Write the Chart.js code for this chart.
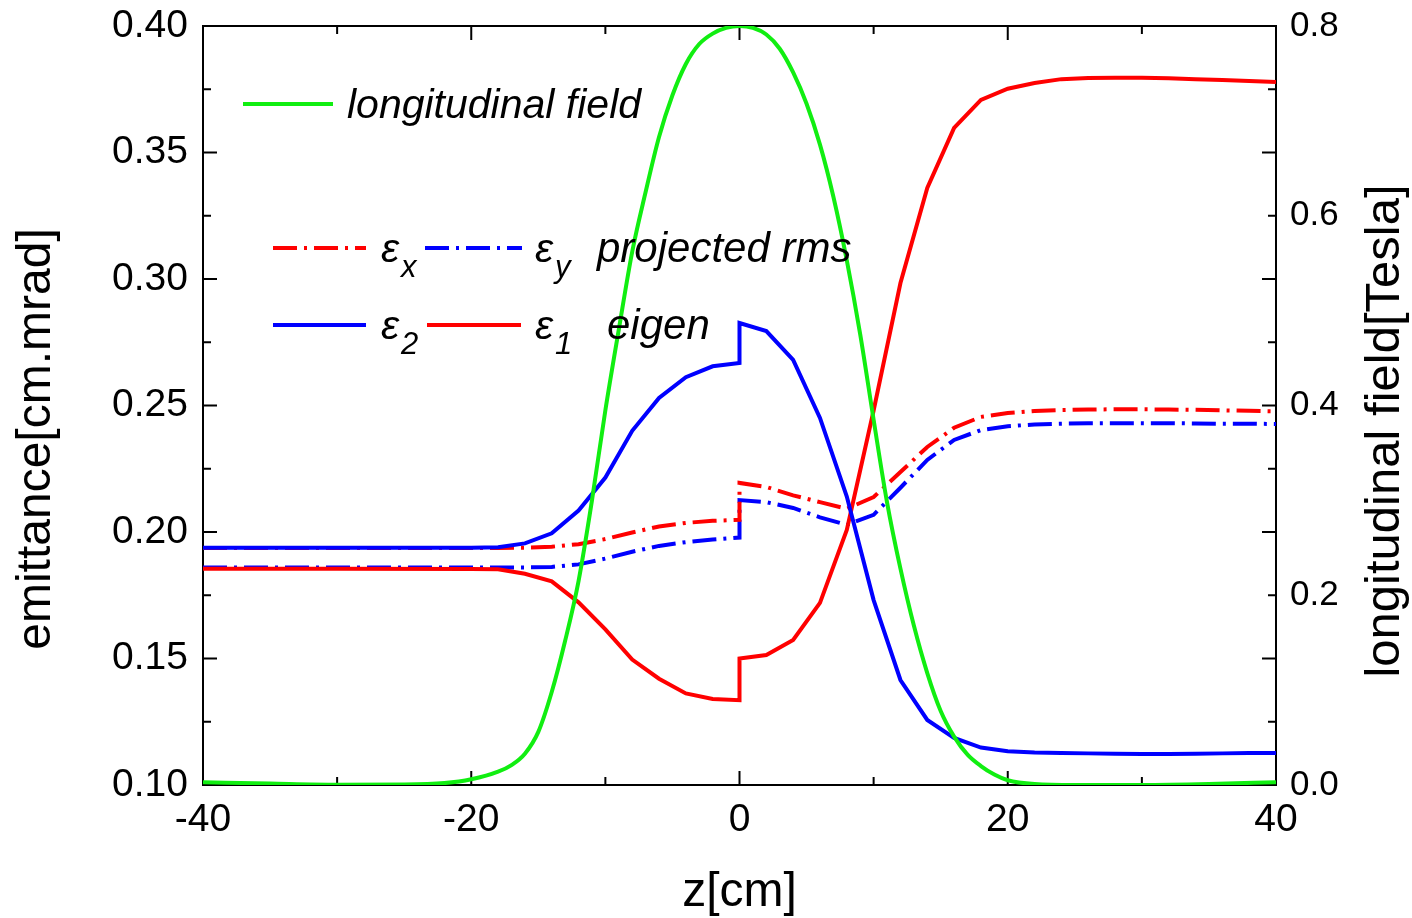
<!DOCTYPE html>
<html>
<head>
<meta charset="utf-8">
<script src="https://cdn.jsdelivr.net/npm/chart.js@4.4.0/dist/chart.umd.min.js"></script>
<style>
  html, body { margin: 0; padding: 0; background: #fff; }
  #wrap { width: 1412px; height: 918px; }
</style>
</head>
<body>
<div id="wrap"><canvas id="c" width="1412" height="918"></canvas></div>
<script>
// z positions for emittance curves (0 twice: jump at the solenoid centre)
const zEmit = [-40, -30, -20, -18, -16, -14, -12, -10, -8, -6, -4, -2, 0, 0,
  2, 4, 6, 8, 10, 12, 14, 16, 18, 20, 22, 24, 26, 28, 30, 32, 34, 36, 38, 40]

// eigen emittances
const eps1 = [0.1855, 0.1855, 0.1854, 0.1853, 0.1835, 0.1805, 0.1722, 0.1615, 0.1496, 0.142, 0.1362, 0.134, 0.1335, 0.150,
  0.1514, 0.1573, 0.172, 0.2008, 0.248, 0.2984, 0.336, 0.3597, 0.3708, 0.3752, 0.3775, 0.379, 0.3794, 0.3795, 0.3795, 0.3793, 0.379, 0.3787, 0.3783, 0.3779]
const eps2 = [0.1938, 0.1938, 0.1938, 0.194, 0.1955, 0.1995, 0.2085, 0.2215, 0.240, 0.253, 0.2612, 0.2655, 0.2668, 0.2826,
  0.2794, 0.268, 0.2451, 0.214, 0.1731, 0.1415, 0.1257, 0.1186, 0.1148, 0.1133, 0.1128, 0.1126, 0.1125, 0.1124, 0.1123, 0.1123, 0.1124, 0.1125, 0.1126, 0.1126]

// projected rms emittances
const epsX = [0.1937, 0.1937, 0.1937, 0.1937, 0.1938, 0.1942, 0.1952, 0.1972, 0.1998, 0.2022, 0.2036, 0.2044, 0.2048, 0.2194,
  0.2178, 0.2145, 0.2118, 0.2092, 0.2138, 0.2237, 0.2336, 0.2412, 0.2455, 0.247, 0.2478, 0.2482, 0.2484, 0.2485, 0.2485, 0.2484, 0.2483, 0.2481, 0.2479, 0.2477]
const epsY = [0.186, 0.186, 0.186, 0.186, 0.186, 0.1862, 0.1872, 0.1895, 0.1922, 0.1945, 0.196, 0.197, 0.1978, 0.2126,
  0.2118, 0.2095, 0.2058, 0.2028, 0.2068, 0.2175, 0.2285, 0.2364, 0.2403, 0.2418, 0.2425, 0.2428, 0.243, 0.243, 0.243, 0.243, 0.2429, 0.2428, 0.2428, 0.2427]

// longitudinal field [Tesla]
const zField = [-40, -35, -30, -25, -22, -20, -18, -17, -16, -15, -14, -13, -12, -11, -10, -9, -8, -7, -6, -5, -4, -3, -2, -1, 0,
  1, 2, 3, 4, 5, 6, 7, 8, 9, 10, 11, 12, 13, 14, 15, 16, 17, 18, 19, 20, 22, 25, 30, 35, 40]
const field = [0.003, 0.0015, 0.0003, 0.0005, 0.002, 0.006, 0.014, 0.021, 0.033, 0.056, 0.098, 0.152, 0.215, 0.300, 0.395, 0.48, 0.562, 0.625, 0.683, 0.727, 0.76, 0.781, 0.792, 0.798, 0.8,
  0.798, 0.791, 0.776, 0.751, 0.718, 0.675, 0.62, 0.553, 0.475, 0.385, 0.298, 0.228, 0.168, 0.118, 0.078, 0.051, 0.032, 0.02, 0.011, 0.005, 0.001, 0.0, 0.0, 0.001, 0.003]

// axes
const zTicks = { min: -40, max: 40, major: 20, minor: 10 }
const emitTicks = { min: 0.10, max: 0.40, major: 0.05, minor: 0.025 }
const fieldTicks = { min: 0, max: 0.8, major: 0.2 }
const zTitle = 'z[cm]'
const emitTitle = 'emittance[cm.mrad]'
const fieldTitle = 'longitudinal field[Tesla]'

const FONT = '"Liberation Sans", Arial, sans-serif'
const RED = '#ff0000'
const BLUE = '#0000ff'
const GREEN = '#11ee11'
const DASHDOT = [24, 7, 3, 7]

function pts(xs, ys) {
  return xs.map((x, i) => ({ x: x, y: ys[i] }))
}

// фиксированные размеры осей, без автоматических отступов
function fixBox(size) {
  return (s) => {
    if (s.isHorizontal()) {
      s.height = size
      s.paddingLeft = 0
      s.paddingRight = 0
    } else {
      s.width = size
      s.paddingTop = 0
      s.paddingBottom = 0
    }
  }
}

// рамка, внутренние засечки и подписи осей
const frameTicks = {
  id: 'frameTicks',
  beforeDatasetsDraw(chart) {
    const { ctx, chartArea: { left, top, right, bottom }, scales } = chart
    ctx.save()
    ctx.strokeStyle = '#000'
    ctx.lineWidth = 2
    ctx.beginPath()
    const n = Math.round((zTicks.max - zTicks.min) / zTicks.minor)
    for (let i = 0; i <= n; i++) {
      const px = scales.x.getPixelForValue(zTicks.min + i * zTicks.minor)
      const len = i % 2 === 0 ? 14 : 8
      ctx.moveTo(px, bottom); ctx.lineTo(px, bottom - len)
      ctx.moveTo(px, top); ctx.lineTo(px, top + len)
    }
    const m = Math.round((emitTicks.max - emitTicks.min) / emitTicks.minor)
    for (let i = 0; i <= m; i++) {
      const py = scales.y.getPixelForValue(emitTicks.min + i * emitTicks.minor)
      const len = i % 2 === 0 ? 14 : 8
      ctx.moveTo(left, py); ctx.lineTo(left + len, py)
      ctx.moveTo(right, py); ctx.lineTo(right - len, py)
    }
    ctx.stroke()
    ctx.strokeRect(left, top, right - left, bottom - top)

    ctx.fillStyle = '#000'
    ctx.textAlign = 'center'
    ctx.textBaseline = 'middle'

    ctx.font = '48px ' + FONT
    ctx.fillText(zTitle, (left + right) / 2, 893)

    ctx.save()
    ctx.translate(37, 439)
    ctx.rotate(-Math.PI / 2)
    ctx.fillText(emitTitle, 0, 0)
    ctx.restore()

    ctx.save()
    ctx.font = '49px ' + FONT
    ctx.translate(1385, 431)
    ctx.rotate(-Math.PI / 2)
    ctx.fillText(fieldTitle, 0, 0)
    ctx.restore()
    ctx.restore()
  },
}

// легенда внутри графика
const innerLegend = {
  id: 'innerLegend',
  afterDatasetsDraw(chart) {
    const ctx = chart.ctx
    const ds = chart.data.datasets
    const sample = (d, x1, x2, y) => {
      ctx.save()
      ctx.strokeStyle = d.borderColor
      ctx.lineWidth = d.borderWidth
      ctx.setLineDash(d.borderDash || [])
      ctx.beginPath()
      ctx.moveTo(x1, y)
      ctx.lineTo(x2, y)
      ctx.stroke()
      ctx.restore()
    }
    const eps = (x, y, sub) => {
      ctx.font = 'italic 41px ' + FONT
      ctx.fillText('ε', x, y)
      ctx.font = 'italic 31px ' + FONT
      ctx.fillText(sub, x + 20, y + 15)
    }
    ctx.save()
    ctx.fillStyle = '#000'
    ctx.textBaseline = 'alphabetic'
    ctx.textAlign = 'left'

    sample(ds[0], 243, 333, 104)
    ctx.font = 'italic 41px ' + FONT
    ctx.fillText('longitudinal field', 347, 118)

    sample(ds[3], 273, 366, 248)
    eps(381, 262, 'x')
    sample(ds[4], 425, 522, 248)
    eps(535, 262, 'y')
    ctx.font = 'italic 42px ' + FONT
    ctx.fillText('projected rms', 597, 262)

    sample(ds[1], 273, 366, 325)
    eps(381, 339, '2')
    sample(ds[2], 427, 521, 325)
    eps(535, 339, '1')
    ctx.font = 'italic 42px ' + FONT
    ctx.fillText('eigen', 607, 339)
    ctx.restore()
  },
}

const lineBase = { pointRadius: 0, borderWidth: 4, tension: 0, fill: false }

new Chart(document.getElementById('c'), {
  type: 'line',
  data: {
    datasets: [
      { ...lineBase, label: 'longitudinal field', data: pts(zField, field), borderColor: GREEN, yAxisID: 'y1', cubicInterpolationMode: 'monotone' },
      { ...lineBase, label: 'eps2', data: pts(zEmit, eps2), borderColor: BLUE, yAxisID: 'y' },
      { ...lineBase, label: 'eps1', data: pts(zEmit, eps1), borderColor: RED, yAxisID: 'y' },
      { ...lineBase, label: 'epsx', data: pts(zEmit, epsX), borderColor: RED, borderDash: DASHDOT, yAxisID: 'y' },
      { ...lineBase, label: 'epsy', data: pts(zEmit, epsY), borderColor: BLUE, borderDash: DASHDOT, yAxisID: 'y' },
    ],
  },
  options: {
    responsive: false,
    animation: false,
    devicePixelRatio: 1,
    layout: { autoPadding: false, padding: { top: 26, left: 0, right: 0, bottom: 0 } },
    plugins: { legend: { display: false }, tooltip: { enabled: false } },
    scales: {
      x: {
        type: 'linear',
        min: zTicks.min,
        max: zTicks.max,
        grid: { display: false, drawTicks: false },
        border: { display: false },
        ticks: { stepSize: zTicks.major, color: '#000', padding: 12, font: { family: FONT, size: 39 } },
        afterFit: fixBox(133),
      },
      y: {
        position: 'left',
        min: emitTicks.min,
        max: emitTicks.max,
        grid: { display: false, drawTicks: false },
        border: { display: false },
        ticks: {
          stepSize: emitTicks.major, color: '#000', padding: 15,
          font: { family: FONT, size: 39 },
          callback: (v) => v.toFixed(2),
        },
        afterFit: fixBox(203),
      },
      y1: {
        position: 'right',
        min: fieldTicks.min,
        max: fieldTicks.max,
        grid: { display: false, drawTicks: false },
        border: { display: false },
        ticks: {
          stepSize: fieldTicks.major, color: '#000', padding: 14,
          font: { family: FONT, size: 35 },
          callback: (v) => v.toFixed(1),
        },
        afterFit: fixBox(136),
      },
    },
  },
  plugins: [frameTicks, innerLegend],
})
</script>
</body>
</html>
